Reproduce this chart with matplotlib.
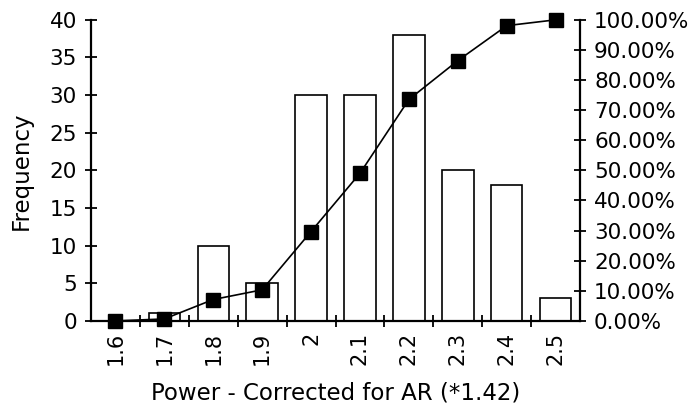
import numpy as np
import matplotlib.pyplot as plt
from matplotlib.ticker import FuncFormatter

plt.rcParams['font.family'] = ['DejaVu Sans']

categories = ['1.6', '1.7', '1.8', '1.9', '2', '2.1', '2.2', '2.3', '2.4', '2.5']
frequency = [0, 1, 10, 5, 30, 30, 38, 20, 18, 3]

cum_pct = np.cumsum(frequency) / np.sum(frequency)
x = np.arange(len(categories))

fig = plt.figure(figsize=(6.99, 4.13), dpi=100)
ax = fig.add_axes([0.130, 0.223, 0.700, 0.729])
ax.bar(x, frequency, 0.64, color='white', edgecolor='black', linewidth=1.2, zorder=1)
ax.set_xlim(-0.5, len(categories) - 0.5)
ax.set_ylim(0, 40)
ax.set_yticks(range(0, 41, 5))
ax.set_xticks(x)
ax.set_xticklabels(categories, rotation=90, fontsize=15)
ax.set_xticks(x[:-1] + 0.5, minor=True)
ax.tick_params(axis='x', which='major', length=0, pad=8)
ax.tick_params(axis='x', which='minor', direction='inout', length=8, width=1.3)
ax.tick_params(axis='y', direction='inout', length=8, width=1.3, labelsize=15.5, pad=6)
ax.set_ylabel('Frequency', fontsize=16.5, labelpad=12)
ax.set_xlabel('Power - Corrected for AR (*1.42)', fontsize=16.5, labelpad=12)
for s in ['top', 'right']:
    ax.spines[s].set_visible(False)
for s in ['left', 'bottom']:
    ax.spines[s].set_linewidth(1.6)

ax2 = ax.twinx()
ax2.plot(x, cum_pct, color='black', linewidth=1.2, marker='s', markersize=10,
         markerfacecolor='black', clip_on=False, zorder=3)
ax2.set_ylim(0, 1)
ax2.set_yticks(np.linspace(0, 1, 11))
ax2.yaxis.set_major_formatter(FuncFormatter(lambda v, p: '%.2f%%' % (v * 100)))
ax2.tick_params(axis='y', direction='inout', length=8, width=1.3, labelsize=15.5, pad=6)
for s in ['top', 'left', 'bottom']:
    ax2.spines[s].set_visible(False)
ax2.spines['right'].set_linewidth(1.6)

fig.savefig('out.png', dpi=100)
